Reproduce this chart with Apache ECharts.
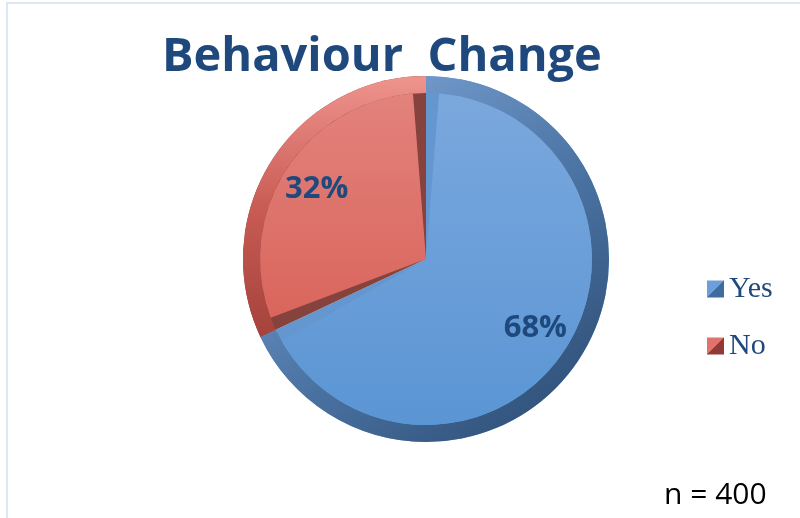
<!DOCTYPE html>
<html>
<head>
<meta charset="utf-8">
<script src="https://cdn.jsdelivr.net/npm/echarts@6/dist/echarts.min.js"></script>
<style>
  html, body { margin: 0; padding: 0; background: #fff; }
  #board { width: 800px; height: 518px; }
</style>
</head>
<body>
<div id="board"></div>
<script>
// data
const categories = ["Yes", "No"];
const values = [68, 32];
const titleText = "Behaviour  Change";
const noteText = "n = 400";

const dark = "#1F497D";
const cx = 426, cy = 259;

function lin(x, y, x2, y2, stops, global) {
  return new echarts.graphic.LinearGradient(x, y, x2, y2,
    stops.map((c, i) => ({ offset: i / (stops.length - 1), color: c })), global);
}
// legend square with a diagonal "bevel" split
function sq(a, b) {
  return new echarts.graphic.LinearGradient(0, 0, 1, 1, [
    { offset: 0, color: a }, { offset: 0.5, color: a },
    { offset: 0.5, color: b }, { offset: 1, color: b }
  ]);
}

// colours per slice: base bevel, ring, face
const baseCol = ["#6496d0", "#86423d"];
const ringCol = [
  lin(300, 90, 580, 440, ["#7ea6d8", "#4d76a6", "#2b4b72"], true),
  lin(300, 80, 300, 340, ["#ee928c", "#c85b53", "#a3423b"], true)
];
const faceCol = [
  lin(0, 90, 0, 430, ["#7ba8dd", "#5a95d4"], true),
  lin(0, 90, 0, 330, ["#e2837c", "#d9645b"], true)
];

function mk(cols) {
  return categories.map((c, i) => ({ name: c, value: values[i], itemStyle: { color: cols[i] } }));
}

const myChart = echarts.init(document.getElementById("board"));
myChart.setOption({
  animation: false,
  title: {
    text: titleText,
    left: 157, top: 29,
    textStyle: { fontFamily: "Open Sans", fontWeight: "bold", fontSize: 47, color: dark }
  },
  legend: {
    orient: "vertical",
    left: 702, top: 269,
    icon: "rect",
    itemWidth: 17, itemHeight: 17,
    itemGap: 27,
    data: [
      { name: "Yes", itemStyle: { color: sq("#6c9fdc", "#3e6c9e") } },
      { name: "No", itemStyle: { color: sq("#e0736c", "#8f3a36") } }
    ],
    textStyle: { fontFamily: "Liberation Serif", fontSize: 30, color: dark, lineHeight: 30 }
  },
  graphic: [
    { type: "rect", shape: { x: 7, y: 3, width: 820, height: 540 },
      style: { fill: "none", stroke: "#dde7f3", lineWidth: 2 }, silent: true },
    { type: "text", x: 664, y: 495,
      style: { text: noteText, fontFamily: "Open Sans", fontSize: 30, fill: "#000",
        textAlign: "left", textVerticalAlign: "middle" } }
  ],
  series: [
    {
      type: "pie", center: [cx, cy], radius: [0, 183], startAngle: 90,
      silent: true, label: { show: false }, labelLine: { show: false },
      data: mk(baseCol)
    },
    {
      type: "pie", center: [cx, cy], radius: [166, 183], startAngle: 90,
      silent: true, label: { show: false }, labelLine: { show: false },
      data: mk(ringCol)
    },
    {
      type: "pie", center: [cx, cy], radius: [0, 166], startAngle: 90, padAngle: 9,
      silent: true, label: { show: false }, labelLine: { show: false },
      data: mk(faceCol)
    },
    {
      type: "pie", center: [cx, cy], radius: [70, 183], startAngle: 90,
      silent: true, labelLine: { show: false },
      itemStyle: { color: "rgba(0,0,0,0)" },
      label: {
        show: true, position: "inside", formatter: "{d}%",
        fontFamily: "Open Sans", fontWeight: "bold", fontSize: 31, color: dark
      },
      data: categories.map((c, i) => ({ name: c, value: values[i] }))
    }
  ]
});
</script>
</body>
</html>
